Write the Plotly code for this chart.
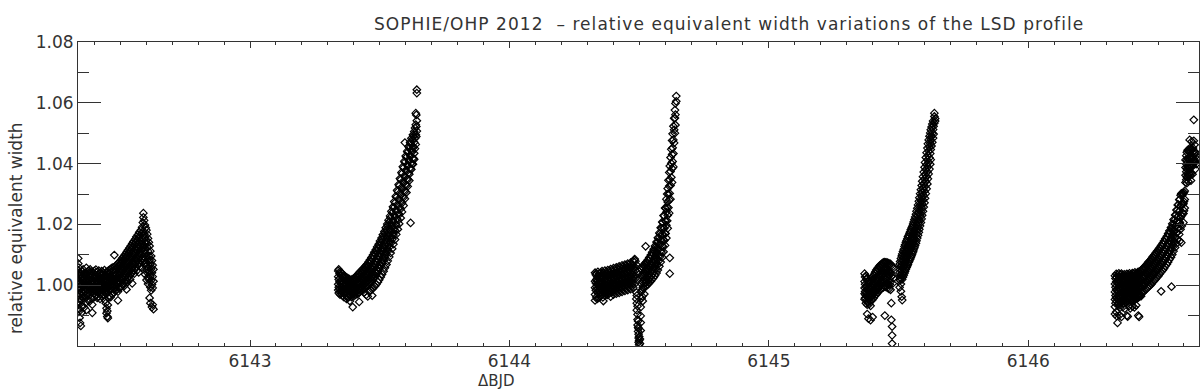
import plotly.graph_objects as go

# ---------------- data: ΔBJD (column times) and relative equivalent width values ----------------
n1_t = [6142.338, 6142.340, 6142.343, 6142.345, 6142.348, 6142.352, 6142.355, 6142.357, 6142.361, 6142.364,
        6142.366, 6142.369, 6142.373, 6142.375, 6142.378, 6142.381, 6142.384, 6142.386, 6142.389, 6142.392,
        6142.395, 6142.397, 6142.400, 6142.403, 6142.406, 6142.408, 6142.411, 6142.414, 6142.417, 6142.419,
        6142.422, 6142.425, 6142.428, 6142.430, 6142.433, 6142.436, 6142.439, 6142.441, 6142.444, 6142.447,
        6142.450, 6142.452, 6142.455, 6142.458, 6142.461, 6142.463, 6142.466, 6142.469, 6142.472, 6142.474,
        6142.477, 6142.480, 6142.483, 6142.485, 6142.488, 6142.491, 6142.494, 6142.496, 6142.499, 6142.502,
        6142.505, 6142.507, 6142.510, 6142.513, 6142.516, 6142.518, 6142.521, 6142.524, 6142.527, 6142.529,
        6142.532, 6142.535, 6142.538, 6142.540, 6142.543, 6142.546, 6142.549, 6142.551, 6142.554, 6142.557,
        6142.560, 6142.562, 6142.565, 6142.568, 6142.571, 6142.573, 6142.576, 6142.579, 6142.582, 6142.584,
        6142.587, 6142.589, 6142.592, 6142.595, 6142.598, 6142.601, 6142.604, 6142.607, 6142.610, 6142.613,
        6142.616, 6142.619, 6142.622, 6142.625, 6142.628]
n1_y = [[1.0088, 1.0071, 1.0049, 1.0026, 1.0012, 0.9991, 0.9964, 0.9937],
        [1.0058, 1.0017, 0.9983, 0.9946, 0.9912],
        [1.0043, 1.0009, 0.9996, 0.9971, 0.9922, 0.9893],
        [1.0031, 1.0004, 0.9957, 0.9876],
        [1.0037, 1.0021, 0.9988, 0.9949, 0.9866],
        [1.0046, 1.0002, 0.9979, 0.9933, 0.9911],
        [1.0027, 1.0013, 0.9994, 0.9962],
        [1.0052, 1.0019, 0.9985, 0.9971],
        [1.0034, 0.9998, 0.9956, 0.9927],
        [1.0041, 1.0023, 1.0007, 0.9981],
        [1.0016, 0.9989, 0.9942],
        [1.0057, 1.0031, 0.9997, 0.9968, 0.9918],
        [1.0044, 1.0011, 0.9986],
        [1.0025, 0.9999, 0.9975, 0.9952],
        [1.0048, 1.0019, 0.9991],
        [1.0036, 1.0003, 0.9978, 0.9946],
        [1.0052, 1.0028, 0.9995, 0.9969],
        [1.0039, 1.0012, 0.9983],
        [1.0045, 1.0007, 0.9988, 0.9957],
        [1.0031, 1.0016, 0.9979, 0.9936, 0.9909],
        [1.0042, 1.0004, 0.9992],
        [1.0026, 0.9997, 0.9973],
        [1.0047, 1.0021, 0.9986, 0.9961],
        [1.0035, 1.0009, 0.9981],
        [1.0051, 1.0024, 0.9996, 0.9967],
        [1.0029, 1.0002, 0.9984],
        [1.0043, 1.0015, 0.9990, 0.9958],
        [1.0033, 1.0006, 0.9977],
        [1.0048, 1.0019, 0.9993, 0.9963],
        [1.0027, 1.0001, 0.9980],
        [1.0040, 1.0011, 0.9987, 0.9955],
        [1.0032, 1.0018, 0.9996],
        [1.0046, 1.0008, 0.9974],
        [1.0037, 1.0022, 0.9989, 0.9962],
        [1.0043, 1.0005, 0.9983],
        [1.0029, 1.0014, 0.9992, 0.9968],
        [1.0050, 1.0017, 0.9979],
        [1.0034, 1.0003, 0.9986, 0.9951],
        [1.0041, 1.0012, 0.9972, 0.9941],
        [1.0027, 0.9996, 0.9924, 0.9908],
        [1.0045, 1.0019, 0.9988, 0.9915, 0.9897],
        [1.0036, 1.0008, 0.9976, 0.9935, 0.9892],
        [1.0049, 1.0023, 0.9994, 0.9958],
        [1.0039, 1.0011, 0.9985, 0.9966],
        [1.0052, 1.0027, 0.9998],
        [1.0044, 1.0016, 0.9989, 0.9961],
        [1.0056, 1.0024, 1.0001],
        [1.0047, 1.0018, 0.9993, 0.9970],
        [1.0059, 1.0031, 1.0006],
        [1.0050, 1.0022, 0.9996, 0.9975],
        [1.0099, 1.0041, 1.0013, 0.9988],
        [1.0062, 1.0029, 1.0004, 0.9981],
        [1.0053, 1.0021, 0.9995],
        [1.0066, 1.0035, 1.0009, 0.9984],
        [1.0058, 1.0027, 1.0012],
        [1.0071, 1.0039, 1.0006, 0.9979, 0.9950],
        [1.0064, 1.0033, 1.0015],
        [1.0076, 1.0044, 1.0011, 0.9989],
        [1.0069, 1.0036, 1.0020, 0.9994],
        [1.0082, 1.0051, 1.0017],
        [1.0074, 1.0042, 1.0023, 0.9996],
        [1.0089, 1.0057, 1.0029, 1.0003],
        [1.0081, 1.0048, 1.0019],
        [1.0094, 1.0063, 1.0034, 1.0007],
        [1.0087, 1.0055, 1.0026, 0.9998],
        [1.0101, 1.0069, 1.0040, 1.0012],
        [1.0093, 1.0061, 1.0033],
        [1.0108, 1.0076, 1.0045, 1.0017, 0.9986],
        [1.0099, 1.0068, 1.0039, 1.0010],
        [1.0115, 1.0083, 1.0052, 1.0024],
        [1.0106, 1.0074, 1.0044],
        [1.0122, 1.0089, 1.0058, 1.0030],
        [1.0113, 1.0081, 1.0050, 1.0019],
        [1.0129, 1.0096, 1.0064, 1.0036],
        [1.0120, 1.0088, 1.0057],
        [1.0137, 1.0103, 1.0071, 1.0041, 1.0006],
        [1.0127, 1.0095, 1.0062],
        [1.0144, 1.0110, 1.0077, 1.0047],
        [1.0135, 1.0101, 1.0069, 1.0038],
        [1.0151, 1.0118, 1.0084, 1.0053],
        [1.0142, 1.0108, 1.0076],
        [1.0159, 1.0125, 1.0091, 1.0060],
        [1.0149, 1.0115, 1.0082, 1.0049],
        [1.0166, 1.0132, 1.0097, 1.0066],
        [1.0157, 1.0122, 1.0089, 1.0042],
        [1.0174, 1.0139, 1.0104, 1.0072],
        [1.0163, 1.0129, 1.0095, 1.0061],
        [1.0181, 1.0146, 1.0111, 1.0079],
        [1.0171, 1.0136, 1.0101],
        [1.0191, 1.0153, 1.0117, 1.0085, 1.0058],
        [1.0206, 1.0162, 1.0124, 1.0090],
        [1.0237, 1.0223, 1.0178, 1.0133, 1.0095],
        [1.0213, 1.0169, 1.0126, 1.0083],
        [1.0198, 1.0157, 1.0114, 1.0071, 1.0036],
        [1.0189, 1.0146, 1.0103, 1.0062],
        [1.0181, 1.0138, 1.0094, 1.0051, 1.0017],
        [1.0168, 1.0125, 1.0083, 1.0041],
        [1.0154, 1.0112, 1.0068, 1.0027, 1.0004],
        [1.0141, 1.0097, 1.0056, 1.0019],
        [1.0129, 1.0083, 1.0043, 0.9958],
        [1.0112, 1.0069, 1.0030, 0.9993, 0.9941],
        [1.0096, 1.0054, 1.0016, 0.9983],
        [1.0081, 1.0041, 1.0002, 0.9928],
        [1.0066, 1.0028, 0.9991, 0.9936],
        [1.0052, 1.0013, 0.9921]]

n2_t = [6143.340, 6143.342, 6143.345, 6143.347, 6143.350, 6143.352, 6143.355, 6143.357, 6143.360, 6143.362,
        6143.365, 6143.367, 6143.370, 6143.372, 6143.375, 6143.377, 6143.380, 6143.383, 6143.385, 6143.388,
        6143.391, 6143.393, 6143.396, 6143.399, 6143.401, 6143.404, 6143.407, 6143.410, 6143.412, 6143.415,
        6143.418, 6143.421, 6143.423, 6143.426, 6143.429, 6143.432, 6143.435, 6143.437, 6143.440, 6143.443,
        6143.446, 6143.448, 6143.451, 6143.454, 6143.457, 6143.460, 6143.462, 6143.465, 6143.468, 6143.471,
        6143.474, 6143.476, 6143.479, 6143.482, 6143.485, 6143.487, 6143.490, 6143.493, 6143.496, 6143.498,
        6143.501, 6143.504, 6143.507, 6143.509, 6143.512, 6143.515, 6143.518, 6143.520, 6143.523, 6143.526,
        6143.529, 6143.531, 6143.534, 6143.537, 6143.540, 6143.542, 6143.545, 6143.548, 6143.551, 6143.553,
        6143.556, 6143.559, 6143.562, 6143.564, 6143.567, 6143.570, 6143.573, 6143.575, 6143.578, 6143.581,
        6143.584, 6143.586, 6143.589, 6143.592, 6143.595, 6143.597, 6143.600, 6143.603, 6143.606, 6143.608,
        6143.611, 6143.614, 6143.617, 6143.619, 6143.622, 6143.625, 6143.628, 6143.630, 6143.633, 6143.636,
        6143.639, 6143.641, 6143.643]
n2_y = [[1.0047, 1.0028, 1.0003, 0.9984],
        [1.0052, 1.0019, 0.9993, 0.9974],
        [1.0038, 1.0011, 0.9987],
        [1.0045, 1.0024, 0.9998, 0.9969],
        [1.0033, 1.0006, 0.9981],
        [1.0041, 1.0016, 0.9991, 0.9972],
        [1.0029, 1.0002, 0.9978],
        [1.0037, 1.0013, 0.9986, 0.9965],
        [1.0024, 0.9997, 0.9974],
        [1.0032, 1.0008, 0.9983, 0.9961],
        [1.0021, 0.9994, 0.9970],
        [1.0029, 1.0004, 0.9979],
        [1.0018, 0.9991, 0.9966],
        [1.0026, 1.0001, 0.9976, 0.9955],
        [1.0015, 0.9989, 0.9963],
        [1.0023, 0.9998, 0.9972],
        [1.0012, 0.9986, 0.9960],
        [1.0020, 0.9995, 0.9969],
        [1.0009, 0.9983, 0.9948],
        [1.0017, 0.9992, 0.9966],
        [1.0011, 0.9987, 0.9961],
        [1.0019, 0.9994, 0.9970],
        [1.0014, 0.9989, 0.9928],
        [1.0022, 0.9997, 0.9972],
        [1.0016, 0.9991, 0.9965],
        [1.0025, 1.0000, 0.9975],
        [1.0019, 0.9994, 0.9968],
        [1.0028, 1.0003, 0.9978],
        [1.0033, 1.0008, 0.9982],
        [1.0026, 0.9999, 0.9971],
        [1.0038, 1.0012, 0.9986],
        [1.0031, 1.0004, 0.9976, 0.9945],
        [1.0043, 1.0017, 0.9990],
        [1.0036, 1.0009, 0.9981],
        [1.0048, 1.0021, 0.9994],
        [1.0041, 1.0014, 0.9985],
        [1.0053, 1.0026, 0.9998],
        [1.0047, 1.0018, 0.9989],
        [1.0058, 1.0031, 1.0003, 0.9976],
        [1.0052, 1.0023, 0.9994],
        [1.0064, 1.0036, 1.0007],
        [1.0057, 1.0028, 0.9999, 0.9968],
        [1.0069, 1.0041, 1.0012],
        [1.0063, 1.0033, 1.0004, 0.9963],
        [1.0076, 1.0046, 1.0016],
        [1.0070, 1.0039, 1.0009, 0.9978],
        [1.0083, 1.0052, 1.0021],
        [1.0077, 1.0045, 1.0013, 0.9983],
        [1.0091, 1.0058, 1.0026],
        [1.0085, 1.0051, 1.0018, 0.9987, 0.9966],
        [1.0099, 1.0065, 1.0031],
        [1.0093, 1.0058, 1.0024, 0.9992],
        [1.0108, 1.0072, 1.0036],
        [1.0102, 1.0066, 1.0029, 0.9997],
        [1.0117, 1.0080, 1.0043],
        [1.0111, 1.0074, 1.0037, 1.0003],
        [1.0126, 1.0088, 1.0051],
        [1.0120, 1.0083, 1.0045, 1.0010],
        [1.0135, 1.0097, 1.0059],
        [1.0129, 1.0092, 1.0054, 1.0018],
        [1.0145, 1.0106, 1.0068],
        [1.0139, 1.0101, 1.0062, 1.0027],
        [1.0155, 1.0116, 1.0077],
        [1.0149, 1.0110, 1.0071, 1.0036],
        [1.0166, 1.0126, 1.0087],
        [1.0160, 1.0120, 1.0081, 1.0046],
        [1.0177, 1.0137, 1.0097],
        [1.0172, 1.0131, 1.0091, 1.0057],
        [1.0189, 1.0148, 1.0108],
        [1.0183, 1.0142, 1.0102, 1.0068],
        [1.0201, 1.0160, 1.0119],
        [1.0196, 1.0154, 1.0113, 1.0080],
        [1.0214, 1.0172, 1.0131],
        [1.0209, 1.0167, 1.0125, 1.0093],
        [1.0228, 1.0185, 1.0143],
        [1.0223, 1.0180, 1.0138, 1.0106],
        [1.0243, 1.0199, 1.0156],
        [1.0238, 1.0194, 1.0151, 1.0120],
        [1.0258, 1.0214, 1.0170],
        [1.0254, 1.0209, 1.0165, 1.0135],
        [1.0275, 1.0230, 1.0185],
        [1.0271, 1.0225, 1.0180, 1.0150],
        [1.0293, 1.0247, 1.0201],
        [1.0289, 1.0242, 1.0197, 1.0167],
        [1.0312, 1.0265, 1.0218],
        [1.0308, 1.0261, 1.0214, 1.0184],
        [1.0331, 1.0284, 1.0236],
        [1.0327, 1.0280, 1.0232, 1.0202],
        [1.0351, 1.0303, 1.0255],
        [1.0347, 1.0299, 1.0251, 1.0221],
        [1.0371, 1.0322, 1.0274],
        [1.0367, 1.0318, 1.0270, 1.0241],
        [1.0390, 1.0341, 1.0293],
        [1.0386, 1.0337, 1.0289, 1.0262],
        [1.0408, 1.0360, 1.0313],
        [1.0469, 1.0404, 1.0356, 1.0308, 1.0284],
        [1.0425, 1.0378, 1.0332],
        [1.0421, 1.0374, 1.0328, 1.0305],
        [1.0441, 1.0396, 1.0351],
        [1.0437, 1.0392, 1.0347, 1.0325],
        [1.0456, 1.0412, 1.0369],
        [1.0452, 1.0408, 1.0365, 1.0344],
        [1.0470, 1.0428, 1.0386],
        [1.0466, 1.0424, 1.0382, 1.0205],
        [1.0483, 1.0443, 1.0403, 1.0381],
        [1.0479, 1.0439, 1.0399],
        [1.0495, 1.0457, 1.0419, 1.0398],
        [1.0491, 1.0453, 1.0415],
        [1.0506, 1.0470, 1.0434, 1.0414],
        [1.0517, 1.0483, 1.0449],
        [1.0566, 1.0528, 1.0495, 1.0463],
        [1.0560, 1.0522, 1.0489],
        [1.0643, 1.0632, 1.0541, 1.0507]]

n3_t = [6144.330, 6144.333, 6144.335, 6144.338, 6144.341, 6144.343, 6144.346, 6144.349, 6144.352, 6144.354,
        6144.357, 6144.360, 6144.362, 6144.365, 6144.368, 6144.371, 6144.373, 6144.376, 6144.379, 6144.382,
        6144.384, 6144.387, 6144.390, 6144.393, 6144.395, 6144.398, 6144.401, 6144.404, 6144.406, 6144.409,
        6144.412, 6144.415, 6144.417, 6144.420, 6144.423, 6144.426, 6144.428, 6144.431, 6144.434, 6144.437,
        6144.439, 6144.442, 6144.445, 6144.448, 6144.450, 6144.453, 6144.456, 6144.459, 6144.461, 6144.464,
        6144.467, 6144.470, 6144.472, 6144.475, 6144.478, 6144.481, 6144.483, 6144.486, 6144.489, 6144.491,
        6144.494, 6144.496, 6144.498, 6144.500, 6144.503, 6144.506, 6144.509, 6144.512, 6144.514, 6144.517,
        6144.520, 6144.523, 6144.525, 6144.528, 6144.531, 6144.534, 6144.536, 6144.539, 6144.542, 6144.545,
        6144.547, 6144.550, 6144.553, 6144.556, 6144.558, 6144.561, 6144.564, 6144.567, 6144.569, 6144.572,
        6144.575, 6144.578, 6144.580, 6144.583, 6144.586, 6144.589, 6144.591, 6144.594, 6144.597, 6144.600,
        6144.602, 6144.605, 6144.608, 6144.610, 6144.613, 6144.616, 6144.618, 6144.621, 6144.624, 6144.627,
        6144.629, 6144.632, 6144.635, 6144.638, 6144.640, 6144.643]
n3_y = [[1.0041, 1.0013, 0.9992, 0.9969, 0.9950],
        [1.0034, 1.0007, 0.9983],
        [1.0039, 1.0019, 0.9996, 0.9961],
        [1.0028, 1.0002, 0.9977, 0.9955],
        [1.0044, 1.0016, 0.9988],
        [1.0031, 1.0009, 0.9972, 0.9958],
        [1.0038, 0.9998, 0.9981],
        [1.0025, 1.0012, 0.9990, 0.9964],
        [1.0042, 1.0004, 0.9975],
        [1.0033, 1.0017, 0.9986, 0.9967],
        [1.0046, 1.0008, 0.9979],
        [1.0029, 1.0001, 0.9992, 0.9960],
        [1.0040, 1.0021, 0.9984, 0.9948],
        [1.0035, 1.0006, 0.9973],
        [1.0048, 1.0015, 0.9989, 0.9966],
        [1.0032, 1.0003, 0.9980],
        [1.0043, 1.0024, 0.9995, 0.9970],
        [1.0037, 1.0010, 0.9977],
        [1.0050, 1.0018, 0.9991, 0.9968],
        [1.0034, 1.0005, 0.9983],
        [1.0046, 1.0027, 0.9998, 0.9973],
        [1.0040, 1.0012, 0.9980],
        [1.0053, 1.0021, 0.9994, 0.9962],
        [1.0036, 1.0008, 0.9986],
        [1.0049, 1.0030, 1.0001, 0.9976],
        [1.0043, 1.0015, 0.9984],
        [1.0056, 1.0024, 0.9997, 0.9969],
        [1.0039, 1.0011, 0.9989],
        [1.0052, 1.0033, 1.0004, 0.9979],
        [1.0046, 1.0018, 0.9987],
        [1.0059, 1.0027, 1.0000, 0.9972],
        [1.0042, 1.0014, 0.9992],
        [1.0055, 1.0036, 1.0007, 0.9982],
        [1.0049, 1.0021, 0.9990],
        [1.0062, 1.0030, 1.0003, 0.9975],
        [1.0045, 1.0017, 0.9995],
        [1.0058, 1.0039, 1.0010, 0.9985],
        [1.0052, 1.0024, 0.9993],
        [1.0065, 1.0033, 1.0006, 0.9978],
        [1.0048, 1.0020, 0.9998],
        [1.0061, 1.0042, 1.0013, 0.9988],
        [1.0055, 1.0027, 0.9996],
        [1.0068, 1.0036, 1.0009, 0.9981],
        [1.0051, 1.0023, 1.0001],
        [1.0064, 1.0045, 1.0016, 0.9991],
        [1.0058, 1.0030, 0.9999],
        [1.0071, 1.0039, 1.0012, 0.9984],
        [1.0054, 1.0026, 1.0004],
        [1.0067, 1.0048, 1.0019, 0.9994],
        [1.0061, 1.0033, 1.0002],
        [1.0074, 1.0042, 1.0015, 0.9987],
        [1.0057, 1.0029, 1.0007],
        [1.0070, 1.0051, 1.0022, 0.9997],
        [1.0064, 1.0036, 1.0005],
        [1.0078, 1.0046, 1.0019, 0.9991],
        [1.0083, 1.0055, 1.0026],
        [1.0086, 1.0061, 1.0032, 1.0004],
        [1.0079, 1.0048, 1.0021],
        [1.0068, 0.9976, 0.9955],
        [0.9966, 0.9941, 0.9918],
        [0.9931, 0.9904, 0.9887, 0.9869],
        [0.9882, 0.9861, 0.9848],
        [0.9857, 0.9839, 0.9826, 0.9812],
        [0.9831, 0.9818, 0.9804],
        [0.9823, 0.9808],
        [0.9928, 0.9899, 0.9877, 0.9851],
        [1.0052, 1.0031, 1.0004, 0.9979, 0.9957],
        [1.0061, 1.0036, 1.0011, 0.9986, 0.9963],
        [1.0057, 1.0028, 0.9993, 0.9948],
        [1.0066, 1.0041, 1.0015, 0.9990],
        [1.0062, 1.0034, 1.0006, 0.9971],
        [1.0072, 1.0047, 1.0019, 0.9995],
        [1.0128, 1.0068, 1.0039, 1.0009],
        [1.0077, 1.0052, 1.0024, 0.9998],
        [1.0073, 1.0045, 1.0013],
        [1.0084, 1.0058, 1.0030, 1.0003],
        [1.0080, 1.0051, 1.0019],
        [1.0091, 1.0064, 1.0036, 1.0008],
        [1.0087, 1.0057, 1.0025],
        [1.0099, 1.0070, 1.0042, 1.0013],
        [1.0095, 1.0064, 1.0031],
        [1.0108, 1.0078, 1.0048, 1.0019],
        [1.0104, 1.0072, 1.0038],
        [1.0118, 1.0087, 1.0055, 1.0025],
        [1.0114, 1.0081, 1.0046],
        [1.0129, 1.0097, 1.0063, 1.0032],
        [1.0126, 1.0092, 1.0055],
        [1.0142, 1.0108, 1.0073, 1.0040],
        [1.0139, 1.0104, 1.0066],
        [1.0156, 1.0121, 1.0085, 1.0050],
        [1.0153, 1.0117, 1.0079],
        [1.0172, 1.0135, 1.0098, 1.0062],
        [1.0169, 1.0132, 1.0093],
        [1.0189, 1.0151, 1.0113, 1.0076],
        [1.0187, 1.0148, 1.0109],
        [1.0208, 1.0169, 1.0130, 1.0092],
        [1.0206, 1.0166, 1.0127],
        [1.0229, 1.0189, 1.0149, 1.0110],
        [1.0228, 1.0187, 1.0147],
        [1.0254, 1.0212, 1.0171, 1.0131],
        [1.0253, 1.0211, 1.0170],
        [1.0283, 1.0240, 1.0197, 1.0155],
        [1.0300, 1.0256, 1.0212],
        [1.0318, 1.0274, 1.0230, 1.0187],
        [1.0345, 1.0300, 1.0255],
        [1.0371, 1.0326, 1.0281, 1.0237],
        [1.0392, 1.0347, 1.0302, 1.0090, 1.0038],
        [1.0420, 1.0374, 1.0328, 1.0283],
        [1.0447, 1.0401, 1.0355],
        [1.0476, 1.0430, 1.0384, 1.0338],
        [1.0498, 1.0452, 1.0407],
        [1.0523, 1.0478, 1.0433, 1.0389],
        [1.0549, 1.0511, 1.0468],
        [1.0576, 1.0550, 1.0500],
        [1.0598, 1.0561, 1.0527],
        [1.0622, 1.0605]]

n4_t = [6145.369, 6145.371, 6145.374, 6145.376, 6145.379, 6145.382, 6145.384, 6145.387, 6145.390, 6145.392,
        6145.395, 6145.398, 6145.400, 6145.403, 6145.406, 6145.408, 6145.411, 6145.414, 6145.416, 6145.419,
        6145.422, 6145.425, 6145.427, 6145.430, 6145.433, 6145.436, 6145.438, 6145.441, 6145.444, 6145.447,
        6145.449, 6145.452, 6145.455, 6145.458, 6145.460, 6145.463, 6145.466, 6145.469, 6145.472, 6145.475,
        6145.478, 6145.481, 6145.504, 6145.506, 6145.509, 6145.512, 6145.514, 6145.517, 6145.520, 6145.523,
        6145.525, 6145.528, 6145.531, 6145.534, 6145.536, 6145.539, 6145.542, 6145.545, 6145.547, 6145.550,
        6145.553, 6145.556, 6145.558, 6145.561, 6145.564, 6145.567, 6145.569, 6145.572, 6145.575, 6145.578,
        6145.580, 6145.583, 6145.586, 6145.589, 6145.591, 6145.594, 6145.597, 6145.600, 6145.602, 6145.605,
        6145.608, 6145.611, 6145.613, 6145.616, 6145.619, 6145.622, 6145.624, 6145.627, 6145.630, 6145.633,
        6145.635, 6145.638, 6145.641]
n4_y = [[1.0038, 1.0012, 0.9991, 0.9972, 0.9954],
        [1.0027, 1.0003, 0.9979, 0.9958],
        [1.0031, 0.9994, 0.9966, 0.9941],
        [1.0019, 0.9998, 0.9973, 0.9950],
        [1.0024, 0.9987, 0.9961, 0.9936, 0.9905],
        [1.0011, 0.9993, 0.9969, 0.9944],
        [1.0016, 0.9982, 0.9955, 0.9890],
        [1.0008, 0.9990, 0.9964, 0.9938],
        [1.0020, 0.9985, 0.9959, 0.9947],
        [1.0013, 0.9996, 0.9970, 0.9932, 0.9885],
        [1.0023, 0.9989, 0.9962],
        [1.0017, 1.0001, 0.9976, 0.9951],
        [1.0028, 0.9994, 0.9968, 0.9895],
        [1.0022, 1.0006, 0.9981, 0.9957],
        [1.0033, 0.9999, 0.9973],
        [1.0039, 1.0012, 0.9986, 0.9963],
        [1.0044, 1.0005, 0.9979],
        [1.0050, 1.0021, 0.9993, 0.9969],
        [1.0046, 1.0014, 0.9985],
        [1.0056, 1.0028, 0.9999, 0.9975],
        [1.0052, 1.0020, 0.9991],
        [1.0062, 1.0034, 1.0005, 0.9981],
        [1.0058, 1.0026, 0.9996],
        [1.0067, 1.0039, 1.0010, 0.9986],
        [1.0063, 1.0031, 1.0001],
        [1.0071, 1.0043, 1.0014, 0.9990],
        [1.0068, 1.0035, 1.0006],
        [1.0075, 1.0046, 1.0018, 0.9993],
        [1.0072, 1.0039, 1.0009],
        [1.0076, 1.0048, 1.0020, 0.9995, 0.9900],
        [1.0073, 1.0041, 1.0011],
        [1.0075, 1.0047, 1.0019, 0.9994],
        [1.0071, 1.0038, 1.0008],
        [1.0074, 1.0045, 1.0016, 0.9991],
        [1.0069, 1.0036, 1.0005],
        [1.0072, 1.0043, 1.0013, 0.9988],
        [1.0067, 1.0033, 1.0002],
        [1.0070, 1.0040, 1.0010, 0.9985],
        [1.0064, 1.0029, 0.9941, 0.9886],
        [0.9864, 0.9835, 0.9808],
        [1.0061, 1.0033, 1.0006],
        [1.0056, 1.0024],
        [1.0069, 1.0042, 1.0018, 0.9993],
        [1.0078, 1.0051, 1.0025, 1.0016],
        [1.0088, 1.0061, 1.0033, 1.0004, 0.9980],
        [1.0096, 1.0067, 1.0040, 0.9962],
        [1.0103, 1.0076, 1.0048, 1.0019, 0.9951],
        [1.0111, 1.0082, 1.0054, 1.0027],
        [1.0118, 1.0091, 1.0062, 1.0033],
        [1.0127, 1.0097, 1.0068, 1.0040],
        [1.0133, 1.0105, 1.0076, 1.0046],
        [1.0141, 1.0110, 1.0081, 1.0052],
        [1.0147, 1.0118, 1.0089, 1.0058],
        [1.0153, 1.0122, 1.0093, 1.0064],
        [1.0159, 1.0130, 1.0101, 1.0069],
        [1.0164, 1.0133, 1.0104, 1.0075],
        [1.0171, 1.0141, 1.0112, 1.0080],
        [1.0176, 1.0144, 1.0115, 1.0086],
        [1.0182, 1.0152, 1.0123, 1.0091],
        [1.0188, 1.0156, 1.0127, 1.0097],
        [1.0194, 1.0164, 1.0135, 1.0103],
        [1.0201, 1.0169, 1.0140, 1.0110],
        [1.0208, 1.0177, 1.0148, 1.0116],
        [1.0216, 1.0183, 1.0154, 1.0123],
        [1.0224, 1.0192, 1.0162, 1.0130],
        [1.0233, 1.0199, 1.0169, 1.0138],
        [1.0243, 1.0209, 1.0178, 1.0146],
        [1.0253, 1.0218, 1.0186, 1.0155],
        [1.0264, 1.0229, 1.0196, 1.0164],
        [1.0276, 1.0240, 1.0206, 1.0174],
        [1.0288, 1.0252, 1.0217, 1.0184],
        [1.0301, 1.0264, 1.0229, 1.0195],
        [1.0314, 1.0277, 1.0241, 1.0206],
        [1.0328, 1.0291, 1.0254, 1.0218],
        [1.0342, 1.0304, 1.0267, 1.0230],
        [1.0357, 1.0318, 1.0281, 1.0243],
        [1.0372, 1.0333, 1.0295, 1.0257],
        [1.0388, 1.0349, 1.0310, 1.0271],
        [1.0404, 1.0364, 1.0325, 1.0286],
        [1.0420, 1.0380, 1.0341, 1.0301],
        [1.0436, 1.0396, 1.0357, 1.0317],
        [1.0451, 1.0412, 1.0373, 1.0333],
        [1.0465, 1.0427, 1.0389, 1.0350],
        [1.0478, 1.0441, 1.0404, 1.0366],
        [1.0490, 1.0455, 1.0419, 1.0382],
        [1.0501, 1.0467, 1.0433, 1.0398],
        [1.0511, 1.0478, 1.0446, 1.0413],
        [1.0520, 1.0489, 1.0458],
        [1.0530, 1.0500, 1.0470],
        [1.0540, 1.0512, 1.0484],
        [1.0523, 1.0497],
        [1.0566, 1.0555, 1.0533],
        [1.0548, 1.0540]]

n5_t = [6146.334, 6146.336, 6146.339, 6146.341, 6146.344, 6146.346, 6146.349, 6146.351, 6146.354, 6146.357,
        6146.359, 6146.362, 6146.364, 6146.367, 6146.370, 6146.372, 6146.375, 6146.377, 6146.380, 6146.383,
        6146.385, 6146.388, 6146.390, 6146.393, 6146.396, 6146.398, 6146.401, 6146.403, 6146.406, 6146.409,
        6146.411, 6146.414, 6146.416, 6146.419, 6146.422, 6146.424, 6146.427, 6146.429, 6146.432, 6146.435,
        6146.437, 6146.440, 6146.443, 6146.446, 6146.448, 6146.451, 6146.454, 6146.456, 6146.459, 6146.462,
        6146.464, 6146.467, 6146.470, 6146.472, 6146.475, 6146.478, 6146.480, 6146.483, 6146.486, 6146.488,
        6146.491, 6146.494, 6146.496, 6146.499, 6146.502, 6146.504, 6146.507, 6146.510, 6146.512, 6146.515,
        6146.518, 6146.520, 6146.523, 6146.526, 6146.528, 6146.531, 6146.534, 6146.536, 6146.539, 6146.542,
        6146.544, 6146.547, 6146.550, 6146.552, 6146.555, 6146.558, 6146.560, 6146.563, 6146.566, 6146.568,
        6146.571, 6146.574, 6146.576, 6146.579, 6146.582, 6146.584, 6146.587, 6146.590, 6146.592, 6146.595,
        6146.598, 6146.600, 6146.603, 6146.606, 6146.609, 6146.611, 6146.614, 6146.617, 6146.619, 6146.622,
        6146.625, 6146.627, 6146.630, 6146.633, 6146.635, 6146.638, 6146.641, 6146.644, 6146.647, 6146.650]
n5_y = [[1.0031, 1.0004, 0.9978, 0.9953, 0.9929, 0.9905],
        [1.0022, 0.9993, 0.9966, 0.9941],
        [1.0037, 1.0011, 0.9985, 0.9959, 0.9912],
        [1.0026, 0.9998, 0.9971, 0.9946, 0.9898],
        [1.0033, 1.0007, 0.9981, 0.9954, 0.9876],
        [1.0019, 0.9992, 0.9964, 0.9937],
        [1.0039, 1.0014, 0.9988, 0.9961, 0.9933],
        [1.0028, 1.0001, 0.9973, 0.9947, 0.9901],
        [1.0035, 1.0009, 0.9983, 0.9956, 0.9926],
        [1.0024, 0.9996, 0.9969, 0.9942],
        [1.0038, 1.0012, 0.9986, 0.9960, 0.9896],
        [1.0027, 1.0000, 0.9974, 0.9948],
        [1.0034, 1.0008, 0.9980, 0.9953, 0.9928],
        [1.0021, 0.9994, 0.9967, 0.9939],
        [1.0036, 1.0010, 0.9984, 0.9957],
        [1.0029, 1.0002, 0.9976, 0.9949, 0.9923],
        [1.0033, 1.0006, 0.9979, 0.9952],
        [1.0024, 0.9997, 0.9970, 0.9944],
        [1.0037, 1.0011, 0.9985, 0.9958, 0.9900],
        [1.0028, 1.0001, 0.9975, 0.9946, 0.9897],
        [1.0034, 1.0008, 0.9981, 0.9955],
        [1.0025, 0.9999, 0.9972, 0.9931],
        [1.0039, 1.0013, 0.9987, 0.9961],
        [1.0030, 1.0003, 0.9977, 0.9950, 0.9924],
        [1.0036, 1.0010, 0.9984, 0.9958],
        [1.0027, 1.0000, 0.9974, 0.9947],
        [1.0040, 1.0014, 0.9988, 0.9962, 0.9930],
        [1.0031, 1.0005, 0.9979, 0.9953],
        [1.0037, 1.0011, 0.9985, 0.9958],
        [1.0029, 1.0003, 0.9976, 0.9950, 0.9927],
        [1.0042, 1.0016, 0.9990, 0.9964],
        [1.0033, 1.0007, 0.9981, 0.9955],
        [1.0039, 1.0013, 0.9987, 0.9961, 0.9934],
        [1.0035, 1.0009, 0.9983, 0.9957],
        [1.0043, 1.0017, 0.9991, 0.9966],
        [1.0037, 1.0011, 0.9985, 0.9959, 0.9900],
        [1.0045, 1.0019, 0.9993, 0.9968, 0.9896],
        [1.0040, 1.0014, 0.9988, 0.9962],
        [1.0047, 1.0021, 0.9995, 0.9970],
        [1.0043, 1.0016, 0.9990, 0.9964],
        [1.0050, 1.0024, 0.9998, 0.9973],
        [1.0053, 1.0027, 1.0001, 0.9975],
        [1.0056, 1.0029, 1.0003, 0.9977],
        [1.0051, 1.0024, 0.9998],
        [1.0061, 1.0034, 1.0008, 0.9982],
        [1.0057, 1.0030, 1.0004],
        [1.0066, 1.0039, 1.0013, 0.9986],
        [1.0062, 1.0035, 1.0009],
        [1.0071, 1.0044, 1.0017, 0.9991],
        [1.0068, 1.0041, 1.0014],
        [1.0077, 1.0049, 1.0022, 0.9995],
        [1.0073, 1.0046, 1.0019],
        [1.0082, 1.0054, 1.0027, 0.9999],
        [1.0079, 1.0051, 1.0024],
        [1.0088, 1.0060, 1.0032, 1.0004],
        [1.0085, 1.0057, 1.0029],
        [1.0094, 1.0066, 1.0038, 1.0010],
        [1.0091, 1.0063, 1.0035],
        [1.0100, 1.0071, 1.0043, 1.0015],
        [1.0097, 1.0068, 1.0040],
        [1.0106, 1.0077, 1.0049, 1.0020],
        [1.0103, 1.0074, 1.0046],
        [1.0112, 1.0083, 1.0054, 1.0026],
        [1.0109, 1.0080, 1.0051],
        [1.0118, 1.0089, 1.0060, 1.0031],
        [1.0115, 1.0086, 1.0057],
        [1.0124, 1.0095, 1.0066, 1.0037],
        [1.0121, 1.0092, 1.0063],
        [1.0131, 1.0101, 1.0072, 1.0043, 0.9980],
        [1.0128, 1.0098, 1.0069],
        [1.0138, 1.0108, 1.0078, 1.0049],
        [1.0135, 1.0105, 1.0075],
        [1.0145, 1.0115, 1.0085, 1.0055],
        [1.0142, 1.0112, 1.0082],
        [1.0153, 1.0122, 1.0092, 1.0062],
        [1.0150, 1.0119, 1.0089],
        [1.0161, 1.0130, 1.0099, 1.0069],
        [1.0158, 1.0127, 1.0096],
        [1.0170, 1.0138, 1.0107, 1.0076],
        [1.0167, 1.0135, 1.0104],
        [1.0179, 1.0147, 1.0115, 1.0084],
        [1.0177, 1.0144, 1.0112],
        [1.0190, 1.0157, 1.0124, 1.0092],
        [1.0188, 1.0154, 1.0121, 0.9995],
        [1.0202, 1.0168, 1.0134, 1.0101],
        [1.0200, 1.0166, 1.0132],
        [1.0216, 1.0181, 1.0146, 1.0112],
        [1.0214, 1.0179, 1.0144],
        [1.0231, 1.0195, 1.0159, 1.0124],
        [1.0230, 1.0194, 1.0158],
        [1.0247, 1.0210, 1.0173, 1.0137],
        [1.0247, 1.0210, 1.0173],
        [1.0264, 1.0226, 1.0188, 1.0150],
        [1.0265, 1.0227, 1.0189],
        [1.0281, 1.0243, 1.0205, 1.0167],
        [1.0283, 1.0245, 1.0207, 1.0145],
        [1.0296, 1.0259, 1.0222, 1.0184],
        [1.0302, 1.0266, 1.0230, 1.0140],
        [1.0299, 1.0264, 1.0229, 1.0195],
        [1.0303, 1.0270, 1.0237],
        [1.0300, 1.0268, 1.0236, 1.0206],
        [1.0305, 1.0275, 1.0245],
        [1.0310, 1.0282, 1.0254],
        [1.0412, 1.0387, 1.0362, 1.0338],
        [1.0426, 1.0399, 1.0373, 1.0347],
        [1.0437, 1.0410, 1.0383, 1.0356, 1.0336],
        [1.0444, 1.0417, 1.0390, 1.0363],
        [1.0439, 1.0412, 1.0385, 1.0359, 1.0341],
        [1.0446, 1.0419, 1.0392, 1.0366],
        [1.0478, 1.0450, 1.0423, 1.0396, 1.0369],
        [1.0442, 1.0415, 1.0388, 1.0361],
        [1.0449, 1.0421, 1.0394, 1.0367, 1.0344],
        [1.0473, 1.0445, 1.0417, 1.0390],
        [1.0446, 1.0419, 1.0392, 1.0365],
        [1.0451, 1.0424, 1.0397],
        [1.0544, 1.0475, 1.0440, 1.0410],
        [1.0462, 1.0432, 1.0403],
        [1.0438, 1.0409, 1.0382],
        [1.0425, 1.0398],
        [1.0415]]

x_range = [6142.337, 6146.658]
y_range = [0.98, 1.08]
x_ticks = [6143, 6144, 6145, 6146]
y_ticks = [1.00, 1.02, 1.04, 1.06, 1.08]
y_ticktext = ["1.00", "1.02", "1.04", "1.06", "1.08"]

title_text = "SOPHIE/OHP 2012\u00a0\u00a0\u2013 relative equivalent width variations of the LSD profile"
x_title = "\u0394BJD"
y_title = "relative equivalent width"

# ---------------- flatten the columns into point lists ----------------
xs, ys = [], []
for tlist, ylist in [(n1_t, n1_y), (n2_t, n2_y), (n3_t, n3_y), (n4_t, n4_y), (n5_t, n5_y)]:
    for t, col in zip(tlist, ylist):
        for v in col:
            xs.append(t)
            ys.append(v)

AX = "#333333"
FONT = "DejaVu Sans"

fig = go.Figure()
fig.add_trace(go.Scatter(
    x=xs, y=ys, mode="markers",
    marker=dict(symbol="diamond-open", size=5.8, color="black", line=dict(width=1.2, color="black")),
    hoverinfo="skip", showlegend=False,
))

fig.update_layout(
    width=1200, height=392,
    margin=dict(l=78, r=1, t=42, b=46, autoexpand=False),
    paper_bgcolor="white", plot_bgcolor="white",
    font=dict(family=FONT, size=17, color=AX),
    showlegend=False,
    xaxis=dict(
        range=x_range, tickvals=x_ticks, tickformat="d", automargin=False,
        ticks="inside", ticklen=6, tickwidth=1, tickcolor=AX,
        showline=True, linecolor=AX, linewidth=1, mirror="ticks",
        showgrid=False, zeroline=False,
        minor=dict(tick0=6143, dtick=0.1, ticks="inside", ticklen=3, tickcolor=AX, showgrid=False),
        tickfont=dict(family=FONT, size=17, color=AX),
    ),
    yaxis=dict(
        range=y_range, tickvals=y_ticks, ticktext=y_ticktext, automargin=False,
        ticks="inside", ticklen=23, tickwidth=1, tickcolor=AX,
        showline=True, linecolor=AX, linewidth=1, mirror="ticks",
        showgrid=False, zeroline=False,
        minor=dict(tick0=1.0, dtick=0.01, ticks="inside", ticklen=11, tickcolor=AX, showgrid=False),
        tickfont=dict(family=FONT, size=17, color=AX),
    ),
    annotations=[
        dict(text='<span style="letter-spacing:1.05px">' + title_text + '</span>',
             xref="paper", yref="paper", x=0.5807, y=1.059,
             xanchor="center", yanchor="middle", showarrow=False,
             font=dict(family=FONT, size=17, color=AX)),
        dict(text=x_title, xref="paper", yref="paper", x=0.3729, y=-0.1513,
             xanchor="center", yanchor="bottom", showarrow=False,
             font=dict(family=FONT, size=15, color=AX)),
        dict(text=y_title, xref="paper", yref="paper", x=-0.0553, y=0.388,
             xanchor="center", yanchor="middle", showarrow=False, textangle=-90,
             font=dict(family=FONT, size=17, color=AX)),
    ],
)

fig.write_html(
    "out.html",
    config={"displayModeBar": False, "staticPlot": True},
    post_script="document.body.style.margin='0';document.body.style.overflow='hidden';",
)
